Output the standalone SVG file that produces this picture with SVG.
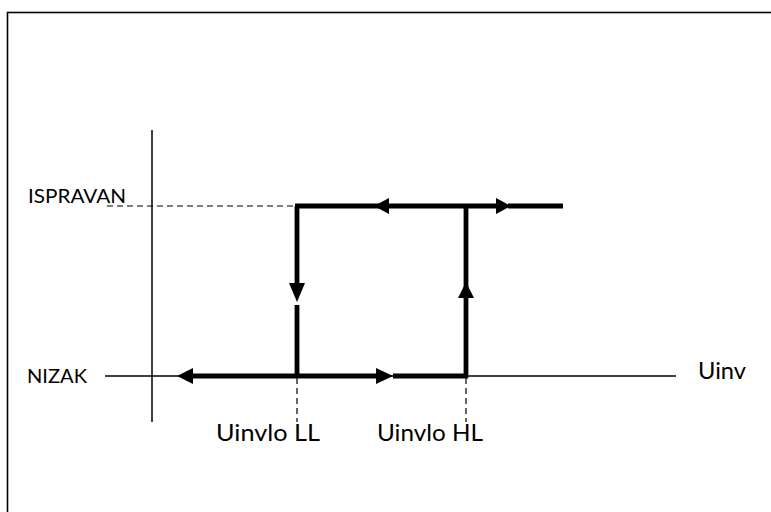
<svg xmlns="http://www.w3.org/2000/svg" width="771" height="512" viewBox="0 0 771 512">
  <style>
    .axis { stroke: #000; stroke-width: 1.5; fill: none; }
    .dash { stroke: #000; stroke-width: 1.2; stroke-dasharray: 6 4; fill: none; }
    .path { stroke: #000; stroke-width: 4.8; fill: none; }
    .head { fill: #000; stroke: none; }
    .lbl { font-family: Lato, "Open Sans", "Liberation Sans", sans-serif; fill: #000; }
    .small { font-size: 20px; }
    .big { font-size: 24px; }
  </style>

  <rect width="771" height="512" fill="#fff"/>
  <!-- frame -->
  <rect x="7.5" y="12.5" width="800" height="600" fill="none" stroke="#000" stroke-width="1.6"/>

  <!-- axes -->
  <g id="axes">
    <line class="axis" x1="152" y1="130" x2="152" y2="422"/>
    <line class="axis" x1="105" y1="376" x2="676" y2="376"/>
  </g>

  <!-- guide lines -->
  <g id="guides">
    <line class="dash" x1="107" y1="206" x2="297" y2="206"/>
    <line class="dash" x1="297" y1="378" x2="297" y2="422"/>
    <line class="dash" x1="466" y1="378" x2="466" y2="422"/>
  </g>

  <!-- hysteresis loop -->
  <g id="connectors">
    <!-- upper branch -->
    <line class="path" x1="295" y1="206" x2="388" y2="206"/>
    <line class="path" x1="386" y1="206" x2="498" y2="206"/>
    <line class="path" x1="508" y1="206" x2="563" y2="206"/>
    <polygon class="head" points="374,206 389,198 389,214"/>
    <polygon class="head" points="511,206 496,198 496,214"/>
    <!-- falling edge at LL -->
    <line class="path" x1="297" y1="206" x2="297" y2="284"/>
    <polygon class="head" points="297,302 289,283 305,283"/>
    <line class="path" x1="297" y1="305" x2="297" y2="378"/>
    <!-- rising edge at HL -->
    <line class="path" x1="466" y1="378" x2="466" y2="297"/>
    <polygon class="head" points="466,282 458,298 474,298"/>
    <line class="path" x1="466" y1="298" x2="466" y2="206"/>
    <!-- lower branch -->
    <line class="path" x1="192" y1="376" x2="377" y2="376"/>
    <polygon class="head" points="177,376 193,368 193,384"/>
    <polygon class="head" points="393,376 376,368 376,384"/>
    <line class="path" x1="393" y1="376" x2="468" y2="376"/>
  </g>

  <!-- labels -->
  <g id="labels">
    <text class="lbl small" x="28" y="203" textLength="98" lengthAdjust="spacingAndGlyphs">ISPRAVAN</text>
    <text class="lbl small" x="27" y="383" textLength="60" lengthAdjust="spacingAndGlyphs">NIZAK</text>
    <text class="lbl big" x="698" y="379" textLength="48" lengthAdjust="spacingAndGlyphs">Uinv</text>
    <text class="lbl big" x="216" y="441" textLength="104" lengthAdjust="spacingAndGlyphs">Uinvlo LL</text>
    <text class="lbl big" x="377" y="441" textLength="106" lengthAdjust="spacingAndGlyphs">Uinvlo HL</text>
  </g>
</svg>
